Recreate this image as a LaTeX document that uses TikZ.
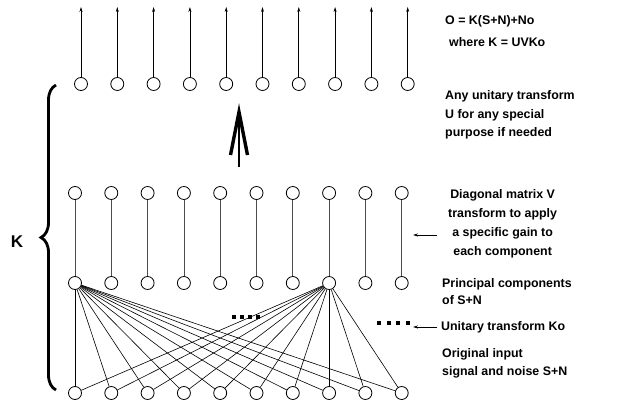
\documentclass[tikz,border=0pt]{standalone}
\usepackage{fontspec}
\setmainfont{Liberation Sans}
\usetikzlibrary{decorations.pathreplacing,arrows.meta}

\begin{document}
\begin{tikzpicture}[
    x=1pt, y=1pt,
    unit/.style={draw, circle, minimum size=13pt, inner sep=0pt, line width=0.8pt},
    lbl/.style={font=\fontsize{12.4}{18.5}\selectfont\bfseries, inner sep=0pt},
    >={Stealth[length=5pt,width=3pt]}
]
    \useasboundingbox (0,0) rectangle (618,413);

    % Output row (after U)
    \foreach \i in {1,...,10} {
        \node[unit] (o\i) at ({81+36.3*(\i-1)},329) {};
        \coordinate (t\i) at ({81+36.3*(\i-1)},406);
        \draw[->, line width=0.7pt] (o\i) -- (t\i);
    }

    % Gain row V and principal components
    \foreach \i in {1,...,10} {
        \node[unit] (v\i) at ({75+36.3*(\i-1)},220) {};
        \node[unit] (p\i) at ({75+36.3*(\i-1)},130) {};
        \draw[line width=0.7pt, black!70] (v\i) -- (p\i);
    }

    % Input row S+N
    \foreach \i in {1,...,10} {
        \node[unit] (s\i) at ({75+36.3*(\i-1)},20) {};
    }

    % Unitary transform Ko (fan)
    \foreach \j in {1,...,10} {
        \draw[line width=0.6pt] (p1) -- (s\j);
        \draw[line width=0.6pt] (p8) -- (s\j);
    }

    % Dots
    \foreach \k in {0,...,3} {
        \fill ({232+8*\k},94) rectangle +(4,4);
        \fill ({377+9.5*\k},88) rectangle +(4,4);
    }

    % Big arrow (U)
    \coordinate (ab) at (239,246);
    \coordinate (at) at (239,301);
    \coordinate (al) at (230.5,258);
    \coordinate (ar) at (247.5,258);
    \draw[line width=2.2pt] (ab) -- (at);
    \draw[line width=3.4pt] (al) -- (at) -- (ar);

    % Brace K
    \coordinate (kb) at (56,23);
    \coordinate (kt) at (56,328);
    \draw[line width=2.8pt, decorate, decoration={brace, amplitude=15pt}] (kb) -- (kt);
    \node[font=\fontsize{17}{20}\selectfont\bfseries] (K) at (17,171) {K};

    % Labels
    \node[lbl, anchor=west, align=left, font=\fontsize{12.4}{22}\selectfont\bfseries] (eqn) at (445,382)
        {O = K(S+N)+No\\\hspace*{4pt}where K = UVKo};
    \node[lbl, anchor=west, align=left] (uany) at (445,298)
        {Any unitary transform\\U for any special\\purpose if needed};
    \node[lbl, anchor=west, align=center, font=\fontsize{12.4}{19}\selectfont\bfseries] (vdiag) at (448,189)
        {Diagonal matrix V\\transform to apply\\a specific gain to\\each component};
    \node[lbl, anchor=west, align=left, font=\fontsize{12.4}{17.5}\selectfont\bfseries] (pcs) at (442,121.5)
        {Principal components\\of S+N};
    \node[lbl, anchor=west] (ko) at (441,86) {Unitary transform Ko};
    \node[lbl, anchor=west, align=left, font=\fontsize{12.4}{17.5}\selectfont\bfseries] (orig) at (442,49.5)
        {Original input\\signal and noise S+N};

    % Pointers
    \coordinate (pv) at (413,178);
    \draw[->, line width=0.8pt] (vdiag.west |- 0,178) ++(-11,0) coordinate (pvs) -- (pv);
    \coordinate (pk) at (413,86);
    \draw[->, line width=0.8pt] (ko.west) ++(-4,0) coordinate (pks) -- (pk);
\end{tikzpicture}
\end{document}
